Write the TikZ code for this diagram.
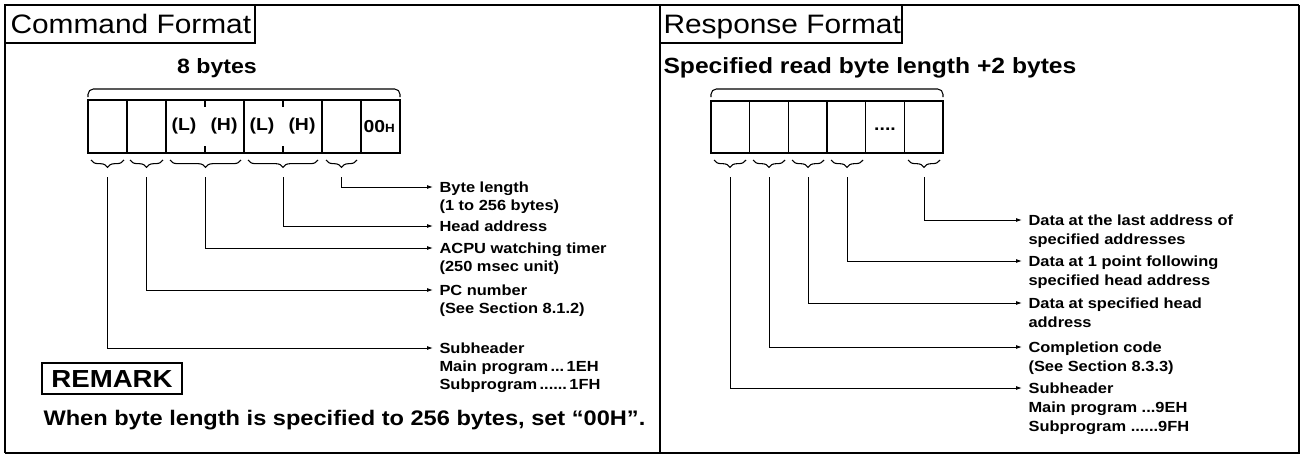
\documentclass[tikz,border=0pt]{standalone}
\usepackage{fontspec}
\setmainfont{Liberation Sans}[FakeStretch=1.12]
\usetikzlibrary{positioning, arrows.meta, decorations.pathreplacing}

\begin{document}
\begin{tikzpicture}[x=0.75pt, y=-0.75pt, line width=0.8pt,
    title/.style={anchor=base west, inner sep=0pt, font=\fontsize{20}{24}\selectfont},
    head/.style={anchor=base west, inner sep=0pt, font=\bfseries\fontsize{15.5}{18}\selectfont},
    cell/.style={inner sep=0pt, font=\bfseries\fontsize{13}{15}\selectfont},
    lbl/.style={anchor=north west, align=left, inner sep=0pt, xshift=4.5pt, yshift=4.2pt, font=\bfseries\fontsize{11}{13.5}\selectfont},
    rlbl/.style={lbl, font=\bfseries\fontsize{11}{14.25}\selectfont},
    lead/.style={-{Latex[length=4.5pt,width=3pt]}, line width=0.7pt},
    ubrace/.style={decorate, decoration={brace, amplitude=5.5pt, mirror}, line width=0.8pt}]
\useasboundingbox (0,0) rectangle (1302,457);

% frame
\draw[line width=2.2pt] (5,453) -- (5,5) -- (1299,5);
\draw[line width=1pt] (1299,5) -- (1299,453) -- (5,453);
\draw (660,5) -- (660,453);

% ---- command
\draw[line width=1.1pt] (5,5) rectangle (255,43);
\node[title] (cmdT) at (10,33) {Command Format};
\node[head, anchor=base] (cmdN) at (217,73) {8 bytes};
\draw[rounded corners=4pt] (88,97) -- (88,89) -- (400,89) -- (400,97);

\draw[line width=1.1pt] (88,100) rectangle (400,153);
\foreach \x in {127,166,244,322,361}
  \draw[line width=1.1pt] (\x,100) -- (\x,153);
\foreach \x in {205,283}{
  \draw (\x,100) -- (\x,107);
  \draw (\x,146) -- (\x,153);
}
\node[cell] (c3) at (184,126) {(L)};
\node[cell] (c4) at (224,126) {(H)};
\node[cell] (c5) at (262,126) {(L)};
\node[cell] (c6) at (302,126) {(H)};
\node[cell, anchor=west] (c8) at (363,127) {00{\fontsize{9}{9}\selectfont H}};

\foreach \a/\b in {91/124, 130/163, 170/241, 248/318, 326/357}
  \draw[ubrace] (\a,160) -- (\b,160);

\foreach \i/\x/\y in {1/107/348, 2/146/290, 3/205/248, 4/283/226, 5/341/187}{
  \coordinate (cb\i) at (\x,177);
  \coordinate (ca\i) at (433,\y);
  \draw[lead] (cb\i) |- (ca\i);
}
\node[lbl] (cl5) at (ca5) {Byte length\\(1 to 256 bytes)};
\node[lbl] (cl4) at (ca4) {Head address};
\node[lbl] (cl3) at (ca3) {ACPU watching timer\\(250 msec unit)};
\node[lbl] (cl2) at (ca2) {PC number\\(See Section 8.1.2)};
\node[lbl] (cl1) at (ca1) {Subheader\\Main program\,...\,1EH\\Subprogram\,......\,1FH};

\draw[line width=1.1pt] (42,363) rectangle (182,394);
\node[inner sep=0pt, font=\bfseries\fontsize{18.5}{22}\selectfont] (rem) at (112,379) {REMARK};
\node[head, font=\bfseries\fontsize{15.8}{18}\selectfont] (note) at (43,425) {When byte length is specified to 256 bytes, set “00H”.};

% ---- response
\draw[line width=1.1pt] (660,5) rectangle (902,43);
\node[title] (resT) at (663,33) {Response Format};
\node[head, font=\bfseries\fontsize{16.5}{19}\selectfont] (resN) at (663,73) {Specified read byte length +2 bytes};
\draw[rounded corners=4pt] (711,97) -- (711,89) -- (943,89) -- (943,97);

\draw[line width=1.1pt] (711,101) rectangle (943,153);
\foreach \x in {749.7,788.3,827,865.7,904.3}
  \draw[line width=1.1pt] (\x,101) -- (\x,153);
\node[cell] (rdot) at (885,129) {....};

\foreach \a/\b in {714/746, 753/785, 792/824, 831/863, 908/940}
  \draw[ubrace] (\a,160) -- (\b,160);

\foreach \i/\x/\y in {1/730/388, 2/769/347, 3/808/303, 4/847/261, 5/924/220}{
  \coordinate (rb\i) at (\x,177);
  \coordinate (ra\i) at (1022,\y);
  \draw[lead] (rb\i) |- (ra\i);
}
\node[rlbl] (rl5) at (ra5) {Data at the last address of\\specified addresses};
\node[rlbl] (rl4) at (ra4) {Data at 1 point following\\specified head address};
\node[rlbl] (rl3) at (ra3) {Data at specified head\\address};
\node[rlbl] (rl2) at (ra2) {Completion code\\(See Section 8.3.3)};
\node[rlbl] (rl1) at (ra1) {Subheader\\Main program ...9EH\\Subprogram ......9FH};
\end{tikzpicture}
\end{document}
